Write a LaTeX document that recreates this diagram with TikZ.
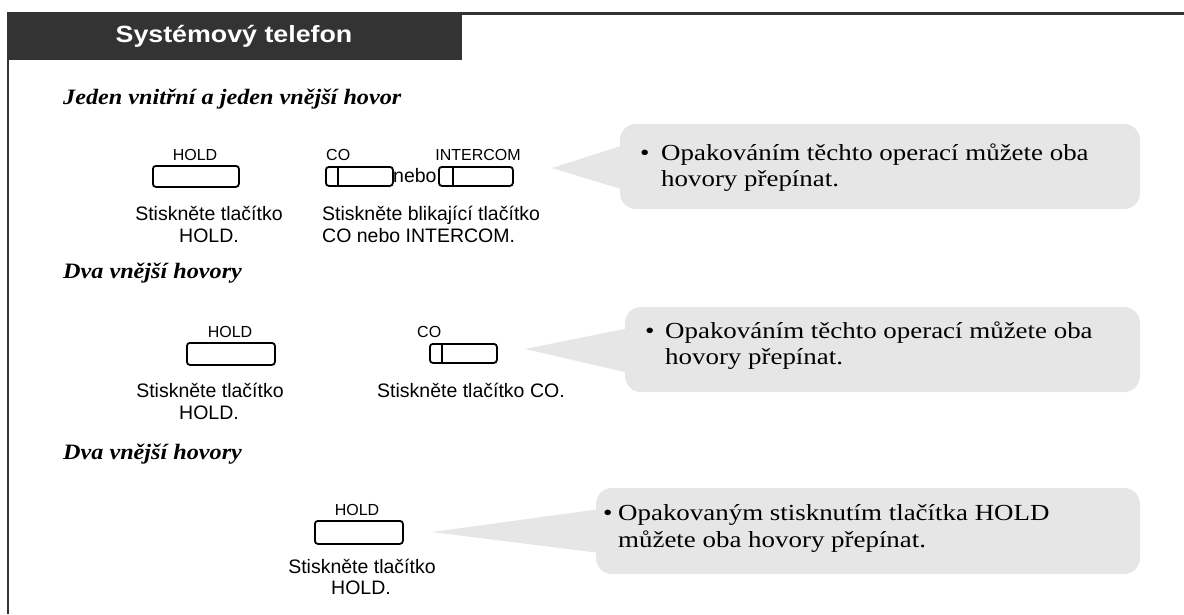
\documentclass[tikz,border=0pt]{standalone}
\usepackage{fontspec}
\setmainfont{Liberation Serif}
\newfontfamily\hdfont[FakeStretch=1.14]{Liberation Sans}
\newfontfamily\sffnt{Liberation Sans}
\newfontfamily\serfnt[FakeStretch=1.17]{Liberation Serif}
\newfontfamily\titfnt[FakeStretch=1.1]{Liberation Serif}
\definecolor{hdgray}{HTML}{333333}
\definecolor{callgray}{HTML}{E6E6E6}
\tikzset{
  sectitle/.style={anchor=base west, inner sep=0pt, font=\titfnt\bfseries\itshape\fontsize{22}{24}\selectfont},
  lbl/.style={anchor=base, inner sep=0pt, font=\sffnt\fontsize{16}{18}\selectfont},
  desc/.style={anchor=base, inner sep=0pt, font=\sffnt\fontsize{19.5}{24}\selectfont},
  callt/.style={anchor=base west, inner sep=0pt, font=\serfnt\fontsize{23}{26}\selectfont},
  btn/.style={draw, line width=1.8pt, rounded corners=3pt, anchor=north west, inner sep=0pt},
  callbox/.style={fill=callgray, rounded corners=16pt},
  frameline/.style={draw=hdgray, line width=2.5pt}
}
\begin{document}
\begin{tikzpicture}[x=1pt, y=-1pt]
\useasboundingbox (0,0) rectangle (1184,614);
% header
\fill[hdgray] (7,12) rectangle (462,60);
\node[font=\hdfont\bfseries\fontsize{23.5}{26}\selectfont, text=white, inner sep=0pt] (hd) at (234,36) {Systémový telefon};
\draw[frameline] (462,13.5) -- (1184,13.5);
\draw[frameline] (8.2,60) -- (8.2,614);

% section 1
\node[sectitle] (t1) at (63,104) {Jeden vnitřní a jeden vnější hovor};
\node[btn, minimum width=86pt, minimum height=21pt] (h1) at (152,165) {};
\node[lbl] (h1l) at (195,160) {HOLD};
\node[desc] (h1d1) at (209,220) {Stiskněte tlačítko};
\node[desc] (h1d2) at (209,242) {HOLD.};
\node[btn, minimum width=67pt, minimum height=19pt] (co1) at (325,166) {};
\draw[line width=1.6pt] ([xshift=13pt]co1.north west) -- ([xshift=13pt]co1.south west);
\node[lbl, anchor=base west] (co1l) at (326,160) {CO};
\node[desc, anchor=base west] (nebo) at (393,182) {nebo};
\node[btn, minimum width=74pt, minimum height=19pt] (ic1) at (438,166) {};
\draw[line width=1.6pt] ([xshift=15pt]ic1.north west) -- ([xshift=15pt]ic1.south west);
\node[lbl] (ic1l) at (478,160) {INTERCOM};
\node[desc, anchor=base west] (c1d1) at (322,220) {Stiskněte blikající tlačítko};
\node[desc, anchor=base west] (c1d2) at (322,242) {CO nebo INTERCOM.};
\coordinate (p1) at (552,168);
\fill[callbox] (620,124) rectangle (1140,209);
\fill[callgray] (p1) -- (624,145) -- (624,190) -- cycle;
\node[callt] (b1) at (640,160) {•};
\node[callt] (k1a) at (661,160) {Opakováním těchto operací můžete oba};
\node[callt] (k1b) at (661,186) {hovory přepínat.};

% section 2
\node[sectitle] (t2) at (63,278) {Dva vnější hovory};
\node[btn, minimum width=88pt, minimum height=22pt] (h2) at (186,342) {};
\node[lbl] (h2l) at (230,337) {HOLD};
\node[desc] (h2d1) at (210,397) {Stiskněte tlačítko};
\node[desc] (h2d2) at (209,419) {HOLD.};
\node[btn, minimum width=67pt, minimum height=19pt] (co2) at (429,343) {};
\draw[line width=1.6pt] ([xshift=13pt]co2.north west) -- ([xshift=13pt]co2.south west);
\node[lbl, anchor=base west] (co2l) at (417,337) {CO};
\node[desc, anchor=base west] (c2d) at (377,397) {Stiskněte tlačítko CO.};
\coordinate (p2) at (525,349);
\fill[callbox] (625,307) rectangle (1140,392);
\fill[callgray] (p2) -- (629,328) -- (629,373) -- cycle;
\node[callt] (b2) at (645,338) {•};
\node[callt] (k2a) at (665,338) {Opakováním těchto operací můžete oba};
\node[callt] (k2b) at (665,364) {hovory přepínat.};

% section 3
\node[sectitle] (t3) at (63,459) {Dva vnější hovory};
\node[btn, minimum width=88pt, minimum height=23pt] (h3) at (314,520) {};
\node[lbl] (h3l) at (357,515) {HOLD};
\node[desc] (h3d1) at (362,573) {Stiskněte tlačítko};
\node[desc] (h3d2) at (361,594) {HOLD.};
\coordinate (p3) at (432,532);
\fill[callbox] (596,488) rectangle (1140,574);
\fill[callgray] (p3) -- (600,509) -- (600,553) -- cycle;
\node[callt] (b3) at (603,520) {•};
\node[callt] (k3a) at (618,520) {Opakovaným stisknutím tlačítka HOLD};
\node[callt] (k3b) at (618,547) {můžete oba hovory přepínat.};
\end{tikzpicture}
\end{document}
